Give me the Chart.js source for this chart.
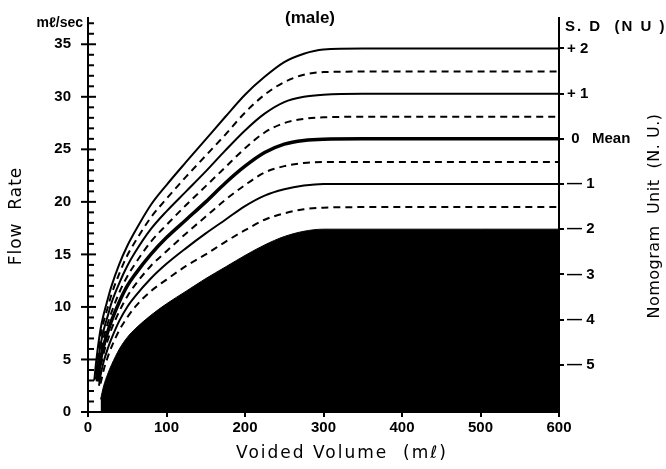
<!DOCTYPE html>
<html>
<head>
<meta charset="utf-8">
<script src="https://cdn.jsdelivr.net/npm/chart.js@4.4.1/dist/chart.umd.min.js"></script>
<style>
html,body{margin:0;padding:0;background:#fff;}
#c{display:block;}
</style>
</head>
<body>
<canvas id="c" width="666" height="469"></canvas>
<script>
// ---- data ----
const volumes = [8,10,12,14,16,20,25,30,40,50,60,80,100,125,150,175,200,225,250,275,300,350,400,500,600];

const sdPlus2    = [3.0,4.5,5.8,6.9,7.9,9.3,10.7,12.0,14.1,15.8,17.2,19.7,21.6,23.8,25.95,28.1,30.2,31.9,33.3,34.1,34.5,34.6,34.6,34.6,34.6];
const sdPlus1_5  = [null,3.8,5.1,6.2,7.2,8.6,9.9,11.2,13.2,14.9,16.2,18.5,20.3,22.4,24.4,26.4,28.5,30.2,31.4,32.1,32.35,32.4,32.4,32.4,32.4];
const sdPlus1    = [null,3.1,4.4,5.4,6.4,7.8,9.1,10.4,12.3,13.9,15.2,17.4,19.1,21.0,22.9,24.9,26.8,28.4,29.5,30.0,30.2,30.3,30.3,30.3,30.3];
const sdPlus0_5  = [null,null,3.7,4.7,5.7,7.1,8.4,9.5,11.4,12.9,14.1,16.2,17.8,19.7,21.5,23.3,25.1,26.6,27.5,27.9,28.05,28.1,28.1,28.1,28.1];
const sdMean     = [null,null,2.9,4.0,5.0,6.3,7.6,8.7,10.5,12.0,13.1,15.0,16.6,18.3,20.0,21.8,23.4,24.7,25.5,25.85,25.97,26.0,26.0,26.0,26.0];
const sdMinus0_5 = [null,null,null,3.3,4.2,5.6,6.8,7.9,9.6,11.0,12.1,13.9,15.3,17.0,18.6,20.2,21.6,22.8,23.4,23.7,23.8,23.8,23.8,23.8,23.8];
const sdMinus1   = [null,null,null,2.5,3.5,4.8,6.0,7.0,8.7,10.0,11.0,12.7,14.1,15.6,17.0,18.3,19.6,20.6,21.2,21.55,21.7,21.7,21.7,21.7,21.7];
const sdMinus1_5 = [null,null,null,null,2.7,4.0,5.2,6.2,7.8,9.0,10.0,11.5,12.6,13.9,15.0,16.2,17.3,18.3,18.9,19.3,19.45,19.5,19.5,19.5,19.5];
const sdMinus2   = [null,null,null,null,1.2,2.5,3.6,4.5,6.0,7.1,7.9,9.2,10.3,11.5,12.7,13.8,14.9,15.9,16.7,17.2,17.4,17.4,17.4,17.4,17.4];

const xTicks = [0,100,200,300,400,500,600];
const yTicks = [0,1,2,3,4,5,6,7,8,9,10,11,12,13,14,15,16,17,18,19,20,21,22,23,24,25,26,27,28,29,30,31,32,33,34,35,36,37];
const yMax = 37.5;
const nomogramTicks  = [2,1,0,-1,-2,-3,-4,-5];
const nomogramLabels = ['+ 2','+ 1',' 0   Mean','— 1','— 2','— 3','— 4','— 5'];
const meanFlow = 26.0;   // flow at N.U. 0
const sdFlow = 4.3;      // flow per N.U.

// ---- helpers ----
function pts(arr){ return arr.map((y,i)=>({x:volumes[i],y})).filter(p=>p.y!==null); }
function line(arr, opts){
  return Object.assign({data:pts(arr), borderColor:'#000', borderWidth:2, pointRadius:0,
    fill:false, cubicInterpolationMode:'monotone'}, opts||{});
}

const decor = {
  id:'decor',
  afterDraw(chart){
    const ctx = chart.ctx, a = chart.chartArea, ys = chart.scales.y;
    ctx.save();
    ctx.strokeStyle = '#000'; ctx.lineWidth = 2;
    for (const v of yTicks){
      const py = ys.getPixelForValue(v);
      const major = v % 5 === 0;
      ctx.beginPath();
      ctx.moveTo(a.left - (major ? 7 : 0), py);
      ctx.lineTo(a.left + (major ? 8 : 6), py);
      ctx.stroke();
    }
    ctx.fillStyle = '#000';
    ctx.textBaseline = 'middle';
    // top-left unit
    ctx.font = 'bold 14px "Liberation Sans"';
    ctx.textAlign = 'right';
    ctx.fillText('mℓ/sec', 83, 23);
    // title
    ctx.font = 'bold 17px "Liberation Sans"';
    ctx.textAlign = 'center';
    ctx.fillText('(male)', 310, 18);
    // right header
    ctx.font = 'bold 15px "Liberation Sans"';
    ctx.textAlign = 'left';
    ctx.letterSpacing = '2px';
    ctx.fillText('S. D  (N U )', 565, 27);
    // axis titles
    ctx.font = '17px "DejaVu Sans"';
    ctx.letterSpacing = '2px';
    ctx.textAlign = 'center';
    ctx.fillText('Voided Volume  (mℓ)', 342, 454);
    ctx.letterSpacing = '1px';
    ctx.save();
    ctx.translate(17, 216); ctx.rotate(-Math.PI/2);
    ctx.fillText('Flow  Rate', 0, 0);
    ctx.restore();
    ctx.font = '16px "DejaVu Sans"';
    ctx.letterSpacing = '0.5px';
    ctx.save();
    ctx.translate(655, 216); ctx.rotate(-Math.PI/2);
    ctx.fillText('Nomogram  Unit  (N. U.)', 0, 0);
    ctx.restore();
    ctx.restore();
  }
};

new Chart(document.getElementById('c'), {
  type:'line',
  data:{
    datasets:[
      line(sdMinus2,  {fill:'origin', backgroundColor:'#000', borderWidth:1}),
      line(sdMinus1_5,{borderDash:[7,5]}),
      line(sdMinus1),
      line(sdMinus0_5,{borderDash:[7,5]}),
      line(sdMean,    {borderWidth:3.5}),
      line(sdPlus0_5, {borderDash:[7,5]}),
      line(sdPlus1),
      line(sdPlus1_5, {borderDash:[7,5]}),
      line(sdPlus2)
    ]
  },
  options:{
    responsive:false, animation:false, devicePixelRatio:1,
    layout:{padding:{top:18,left:0,right:0,bottom:0}},
    plugins:{legend:{display:false}, tooltip:{enabled:false}},
    scales:{
      x:{type:'linear', min:0, max:600,
        afterBuildTicks(s){ s.ticks = xTicks.map(v=>({value:v})); },
        afterFit(s){ s.height = 469 - 412; },
        grid:{drawOnChartArea:false, drawTicks:true, tickLength:5, lineWidth:2, color:'#000'},
        border:{display:true, width:2, color:'#000'},
        ticks:{color:'#000', padding:2, autoSkip:false, maxRotation:0,
          font:{family:'Liberation Sans', weight:'bold', size:15}}
      },
      y:{type:'linear', position:'left', min:0, max:yMax,
        afterBuildTicks(s){ s.ticks = yTicks.map(v=>({value:v})); },
        afterFit(s){ s.width = 88; },
        grid:{display:false},
        border:{display:true, width:2, color:'#000'},
        ticks:{color:'#000', padding:9, autoSkip:false,
          callback:(v)=> (v % 5 === 0 ? String(v) : ''),
          font:{family:'Liberation Sans', weight:'bold', size:15}}
      },
      y2:{type:'linear', position:'right',
        min:(0 - meanFlow)/sdFlow, max:(yMax - meanFlow)/sdFlow,
        afterBuildTicks(s){ s.ticks = nomogramTicks.map(v=>({value:v})); },
        afterFit(s){ s.width = 666 - 559; },
        grid:{drawOnChartArea:false, drawTicks:true, tickLength:5, lineWidth:2, color:'#000'},
        border:{display:true, width:2, color:'#000'},
        ticks:{color:'#000', padding:3, autoSkip:false,
          callback:(v)=> nomogramLabels[nomogramTicks.indexOf(v)] ?? '',
          font:{family:'Liberation Sans', weight:'bold', size:15}}
      }
    }
  },
  plugins:[decor]
});
</script>
</body>
</html>
